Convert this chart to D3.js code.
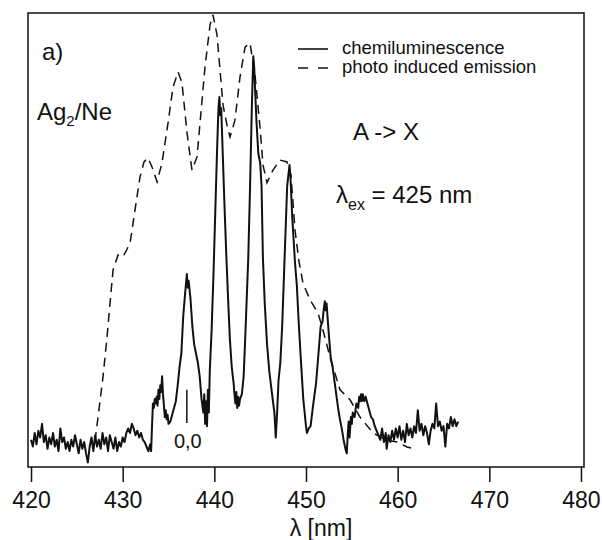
<!DOCTYPE html>
<html>
<head>
<meta charset="utf-8">
<script src="https://cdn.jsdelivr.net/npm/d3@7"></script>
<style>
  body { margin: 0; background: #fff; }
  text { font-family: "Liberation Sans", Arial, Helvetica, sans-serif; fill: #111; }
</style>
</head>
<body>
<div id="chart"></div>
<script>
// chemiluminescence spectrum, [wavelength nm, intensity a.u.]
const chemData = [
  [420.0,6.0],[420.2,4.5],[420.4,7.5],[420.6,5.0],[420.8,8.0],[421.0,6.5],[421.2,9.5],[421.4,5.5],
  [421.6,7.0],[421.8,4.0],[422.0,6.5],[422.2,5.0],[422.4,7.5],[422.6,4.5],[422.8,6.0],[423.0,3.5],
  [423.2,8.5],[423.4,5.5],[423.6,6.5],[423.8,4.0],[424.0,5.5],[424.2,3.5],[424.4,6.0],[424.6,4.5],
  [424.8,7.0],[425.0,5.0],[425.2,3.0],[425.4,6.0],[425.6,4.0],[425.8,5.5],[426.0,3.0],[426.2,1.0],
  [426.4,4.5],[426.6,6.5],[426.8,3.5],[427.0,7.0],[427.2,4.5],[427.4,6.0],[427.6,4.0],[427.8,7.5],
  [428.0,5.0],[428.2,6.5],[428.4,3.5],[428.6,7.0],[428.8,5.5],[429.0,4.0],[429.2,6.5],[429.4,3.5],
  [429.6,5.5],[429.8,4.5],[430.0,6.5],[430.2,5.5],[430.4,7.5],[430.6,8.5],[430.8,7.5],[431.0,9.5],
  [431.2,8.5],[431.4,7.0],[431.6,8.0],[431.8,6.5],[432.0,7.5],[432.2,6.0],[432.4,5.5],[432.6,4.5],
  [432.8,3.5],[433.0,5.0],[433.1,3.5],[433.2,9.0],[433.3,14.0],[433.4,13.0],[433.5,15.0],[433.6,14.0],
  [433.7,15.5],[433.8,13.5],[433.9,17.0],[434.0,15.0],[434.1,18.0],[434.2,16.5],[434.3,20.0],[434.4,16.0],
  [434.5,13.5],[434.6,11.0],[434.7,12.5],[434.8,10.5],[434.9,11.5],[435.0,9.5],[435.2,10.0],[435.4,11.5],
  [435.6,13.0],[435.8,14.5],[436.0,18.0],[436.2,22.0],[436.4,25.0],[436.6,33.0],[436.8,38.0],[437.0,42.5],
  [437.1,39.5],[437.2,41.0],[437.4,37.0],[437.6,31.0],[437.8,27.0],[438.0,25.0],[438.2,23.0],[438.4,20.0],
  [438.6,15.0],[438.8,12.0],[438.9,16.0],[439.0,9.5],[439.1,14.5],[439.2,9.0],[439.3,17.0],[439.4,12.0],
  [439.5,21.0],[439.7,30.0],[439.9,42.0],[440.1,56.0],[440.3,70.0],[440.45,79.0],[440.55,81.5],[440.65,77.5],
  [440.75,79.0],[440.9,70.0],[441.1,58.0],[441.3,47.0],[441.5,37.0],[441.7,28.0],[441.9,22.0],[442.1,18.5],
  [442.2,16.0],[442.3,14.0],[442.4,16.5],[442.5,13.0],[442.6,15.5],[442.7,13.5],[442.8,15.0],[443.0,16.0],
  [443.2,20.0],[443.4,30.0],[443.7,46.0],[443.9,62.0],[444.1,80.0],[444.25,90.5],[444.35,88.0],[444.45,83.0],
  [444.6,76.0],[444.8,69.0],[445.0,67.0],[445.15,62.0],[445.3,46.0],[445.5,36.0],[445.75,27.0],[446.0,21.0],
  [446.3,16.0],[446.55,12.0],[446.7,6.5],[446.85,12.0],[447.0,19.0],[447.2,23.0],[447.4,31.0],[447.7,48.0],
  [447.95,62.0],[448.2,66.5],[448.3,64.0],[448.5,55.0],[448.8,45.0],[449.0,40.0],[449.2,32.0],[449.4,25.0],
  [449.7,15.0],[450.0,9.0],[450.1,7.5],[450.3,8.5],[450.5,9.0],[450.8,14.0],[451.1,18.5],[451.4,26.0],
  [451.6,31.0],[451.8,32.0],[451.95,35.0],[452.05,36.5],[452.15,34.5],[452.25,36.0],[452.35,33.0],[452.5,29.0],
  [452.7,24.0],[452.9,22.0],[453.1,19.0],[453.3,16.0],[453.5,13.0],[453.7,10.5],[453.9,8.5],[454.1,6.0],
  [454.3,4.0],[454.45,3.0],[454.55,7.0],[454.65,10.0],[454.75,6.5],[454.9,11.0],[455.0,9.5],[455.1,12.0],
  [455.3,11.0],[455.5,14.0],[455.7,13.0],[455.8,15.5],[455.9,14.5],[456.0,16.0],[456.1,14.5],[456.2,16.0],
  [456.35,14.5],[456.5,15.5],[456.7,14.0],[456.9,12.5],[457.1,11.0],[457.3,10.5],[457.5,9.0],[457.7,8.0],
  [457.9,7.0],[458.1,6.0],[458.3,8.5],[458.5,5.5],[458.7,7.5],[458.8,4.0],[459.0,7.0],[459.2,5.5],
  [459.4,8.0],[459.6,6.0],[459.8,8.5],[460.0,6.5],[460.2,9.0],[460.4,6.0],[460.6,8.0],[460.8,5.5],
  [461.0,9.5],[461.2,7.0],[461.4,8.5],[461.6,6.5],[461.8,9.0],[462.0,7.5],[462.2,12.5],[462.4,8.0],
  [462.6,9.5],[462.8,7.0],[463.0,9.0],[463.2,7.5],[463.4,5.0],[463.6,8.0],[463.8,9.5],[464.0,8.5],
  [464.2,14.0],[464.4,9.0],[464.6,10.0],[464.8,8.0],[465.0,9.0],[465.2,4.5],[465.4,9.5],[465.6,8.5],
  [465.8,11.0],[466.0,9.0],[466.2,10.5],[466.4,9.0],[466.6,10.0]
];

// photo induced emission spectrum
const pieData = [
  [426.98,5.7],[427.31,11.0],[427.85,19.8],[428.29,28.6],[428.62,36.1],[428.95,43.4],[429.49,46.7],
  [430.04,46.3],[430.80,49.3],[431.13,53.7],[431.56,59.5],[431.89,63.9],[432.33,67.2],[432.76,68.1],
  [433.20,66.1],[433.75,62.8],[434.29,67.0],[434.95,75.8],[435.49,83.7],[436.04,87.0],[436.47,84.6],
  [437.02,73.6],[437.56,65.4],[438.11,68.3],[438.44,75.8],[438.98,88.1],[439.53,97.4],[439.85,99.6],
  [440.29,95.2],[440.62,87.4],[440.95,79.7],[441.38,75.3],[441.71,72.7],[442.25,76.4],[442.80,85.9],
  [443.35,92.5],[443.89,93.4],[444.44,86.3],[444.98,74.9],[445.31,66.5],[445.74,62.6],[446.40,65.4],
  [447.16,67.6],[447.93,67.2],[448.36,64.3],[448.80,52.2],[449.24,45.2],[449.67,40.5],[450.44,36.8],
  [451.31,33.9],[451.85,30.2],[452.62,24.2],[453.71,17.0],[454.80,14.8],[455.89,11.0],[457.31,7.5],
  [458.84,5.9],[459.93,5.5],[461.02,4.4],[461.89,4.0]
];

const xTicks = [420, 430, 440, 450, 460, 470, 480];
const originMark = [[437.0, 9.7], [437.0, 17.0]]; // 0,0 band marker
const legendItems = ["chemiluminescence", "photo induced emission"];

const W = 602, H = 540;
const box = { left: 28, right: 584, top: 13, bottom: 467 };

const x = d3.scaleLinear().domain([419.67, 480.33]).range([box.left, box.right]);
const y = d3.scaleLinear().domain([0, 100]).range([box.bottom, box.top]);

const svg = d3.select("#chart").append("svg")
  .attr("width", W)
  .attr("height", H);

const line = d3.line().x(d => x(d[0])).y(d => y(d[1]));

// curves
svg.append("path")
  .datum(pieData)
  .attr("d", line)
  .attr("fill", "none")
  .attr("stroke", "#111")
  .attr("stroke-width", 1.5)
  .attr("stroke-dasharray", "9,6");

svg.append("path")
  .datum(chemData)
  .attr("d", line)
  .attr("fill", "none")
  .attr("stroke", "#111")
  .attr("stroke-width", 2)
  .attr("stroke-linejoin", "round");

// frame
svg.append("rect")
  .attr("x", box.left)
  .attr("y", box.top)
  .attr("width", box.right - box.left)
  .attr("height", box.bottom - box.top)
  .attr("fill", "none")
  .attr("stroke", "#111")
  .attr("stroke-width", 1.5);

// bottom axis
const xAxis = svg.append("g")
  .attr("transform", "translate(0," + box.bottom + ")")
  .call(d3.axisBottom(x).tickValues(xTicks).tickSize(15).tickPadding(10).tickFormat(d3.format("d")));
xAxis.select(".domain").remove();
xAxis.selectAll("line").attr("stroke", "#111").attr("stroke-width", 1.5);
xAxis.selectAll("text")
  .style("font-family", '"Liberation Sans", Arial, sans-serif')
  .style("font-size", "23px")
  .attr("fill", "#111");

svg.append("text")
  .attr("x", 321)
  .attr("y", 536)
  .attr("text-anchor", "middle")
  .style("font-size", "23px")
  .text("λ [nm]");

// 0,0 marker
svg.append("path")
  .datum(originMark)
  .attr("d", line)
  .attr("stroke", "#111")
  .attr("stroke-width", 1.5);
svg.append("text")
  .attr("x", x(437.0) + 1)
  .attr("y", 448)
  .attr("text-anchor", "middle")
  .style("font-size", "20px")
  .text("0,0");

// annotations
svg.append("text").attr("x", 42).attr("y", 60).style("font-size", "24px").text("a)");

const ag = svg.append("text").attr("x", 37).attr("y", 120).style("font-size", "24px");
ag.append("tspan").text("Ag");
ag.append("tspan").attr("dy", 6).style("font-size", "15px").text("2");
ag.append("tspan").attr("dy", -6).text("/Ne");

svg.append("text").attr("x", 353).attr("y", 140).style("font-size", "24px").text("A -> X");

const lam = svg.append("text").attr("x", 336).attr("y", 203).style("font-size", "24px");
lam.append("tspan").text("λ");
lam.append("tspan").attr("dy", 7).style("font-size", "16px").text("ex");
lam.append("tspan").attr("dy", -7).text(" = 425 nm");

// legend
const legend = svg.append("g");
legend.selectAll("line")
  .data(legendItems)
  .enter().append("line")
  .attr("x1", 298).attr("x2", 328)
  .attr("y1", (d, i) => 49 + i * 19)
  .attr("y2", (d, i) => 49 + i * 19)
  .attr("stroke", "#111")
  .attr("stroke-width", 1.6)
  .attr("stroke-dasharray", (d, i) => i === 0 ? null : "10,10");
legend.selectAll("text")
  .data(legendItems)
  .enter().append("text")
  .attr("x", 342)
  .attr("y", (d, i) => 54 + i * 19)
  .style("font-size", "18.5px")
  .text(d => d);
</script>
</body>
</html>
